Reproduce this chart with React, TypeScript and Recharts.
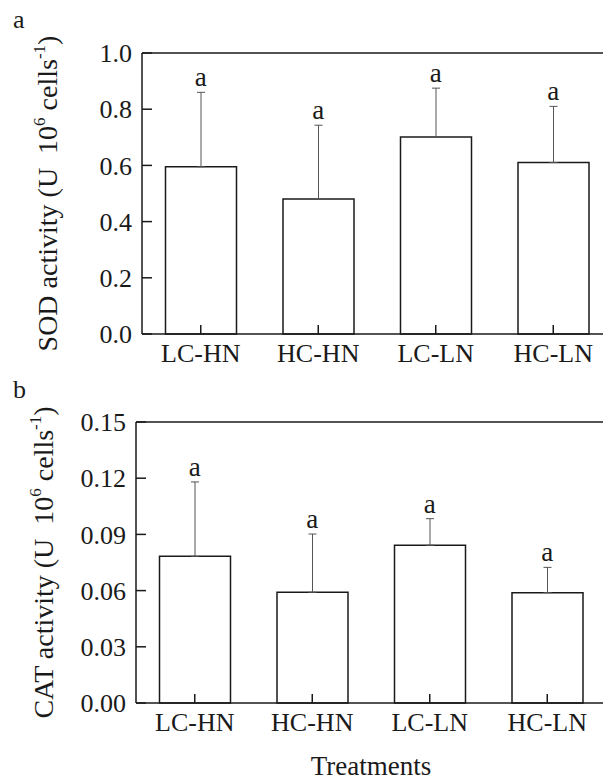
import React from 'react';
import { ComposedChart, Bar, Line, XAxis, YAxis, ErrorBar, LabelList, ReferenceLine } from 'recharts';

const treatments = ['LC-HN', 'HC-HN', 'LC-LN', 'HC-LN'];

const sodMean = [0.595, 0.48, 0.701, 0.61];
const sodSd = [0.265, 0.263, 0.174, 0.2];
const sodLetters = ['a', 'a', 'a', 'a'];
const sodTicks = [0, 0.2, 0.4, 0.6, 0.8, 1.0];

const catMean = [0.0783, 0.0591, 0.0842, 0.0589];
const catSd = [0.0397, 0.0311, 0.0142, 0.0135];
const catLetters = ['a', 'a', 'a', 'a'];
const catTicks = [0, 0.03, 0.06, 0.09, 0.12, 0.15];

const FONT = '"Liberation Serif", "Times New Roman", serif';
const INK = '#1a1a1a';

const buildRows = (mean: number[], sd: number[], letters: string[]) =>
  treatments.map((name, i) => ({
    name,
    mean: mean[i],
    err: [0, sd[i]],
    top: mean[i] + sd[i],
    letter: letters[i],
  }));

const yLabel = (name: string, cx: number) => (props: any) => {
  const vb = props.viewBox;
  const cy = vb.y + vb.height / 2;
  return (
    <text
      x={cx}
      y={cy}
      transform={`rotate(-90 ${cx} ${cy})`}
      textAnchor="middle"
      style={{ fontFamily: FONT, fontSize: 28 }}
      fill={INK}
    >
      {`${name} activity (U\u00a0\u00a010`}
      <tspan dy={-12} style={{ fontSize: 17 }}>6</tspan>
      <tspan dy={12}>{' cells'}</tspan>
      <tspan dy={-12} style={{ fontSize: 17 }}>-1</tspan>
      <tspan dy={12}>)</tspan>
    </text>
  );
};

type PanelProps = {
  rows: ReturnType<typeof buildRows>;
  ticks: number[];
  digits: number;
  name: string;
  width: number;
  height: number;
  marginTop: number;
  axisWidth: number;
  xAxisHeight: number;
  labelX: number;
  showTitle?: boolean;
};

const tickStyle = { fill: INK, fontSize: 26, fontFamily: FONT };

const Panel: React.FC<PanelProps> = ({
  rows, ticks, digits, name, width, height, marginTop, axisWidth, xAxisHeight, labelX, showTitle,
}) => {
  const yMax = ticks[ticks.length - 1];
  return (
    <ComposedChart
      width={width}
      height={height}
      data={rows}
      margin={{ top: marginTop, right: 8, left: 20, bottom: 0 }}
      barCategoryGap="20%"
      style={{ fontFamily: FONT }}
    >
      <XAxis
        dataKey="name"
        height={xAxisHeight}
        stroke={INK}
        strokeWidth={1.5}
        tickSize={-9}
        tickMargin={19}
        tick={tickStyle}
        label={
          showTitle
            ? { value: 'Treatments', position: 'insideBottom', offset: 8, fill: INK, fontSize: 27, fontFamily: FONT }
            : undefined
        }
      />
      <YAxis
        width={axisWidth}
        domain={[0, yMax]}
        ticks={ticks}
        interval={0}
        stroke={INK}
        strokeWidth={1.5}
        tickSize={-10}
        tickMargin={20}
        tickFormatter={(v: number) => v.toFixed(digits)}
        tick={tickStyle}
        label={{ content: yLabel(name, labelX) }}
      />
      <ReferenceLine y={yMax} stroke={INK} strokeWidth={1.5} />
      <Bar dataKey="mean" fill="#ffffff" stroke={INK} strokeWidth={1.5} isAnimationActive={false}>
        <ErrorBar dataKey="err" direction="y" width={4} stroke="#555555" strokeWidth={1} isAnimationActive={false} />
      </Bar>
      <Line
        dataKey="top"
        stroke="none"
        dot={false}
        activeDot={false}
        legendType="none"
        isAnimationActive={false}
      >
        <LabelList dataKey="letter" position="top" offset={6} fill={INK} fontSize={27} fontFamily={FONT} />
      </Line>
    </ComposedChart>
  );
};

const PanelTag: React.FC<{ text: string; top: number }> = ({ text, top }) => (
  <svg width={40} height={40} style={{ position: 'absolute', left: 0, top }}>
    <text x={13} y={28} style={{ fontFamily: FONT, fontSize: 26 }} fill={INK}>{text}</text>
  </svg>
);

export default function App() {
  return (
    <div
      style={{
        position: 'absolute',
        left: 0,
        top: 0,
        width: 603,
        height: 783,
        overflow: 'hidden',
        background: '#ffffff',
        fontFamily: FONT,
      }}
    >
      <div style={{ position: 'absolute', left: 0, top: 0 }}>
        <Panel
          rows={buildRows(sodMean, sodSd, sodLetters)}
          ticks={sodTicks}
          digits={1}
          name="SOD"
          width={620}
          height={374}
          marginTop={53}
          axisWidth={122}
          xAxisHeight={40}
          labelX={57}
        />
      </div>
      <div style={{ position: 'absolute', left: 0, top: 370 }}>
        <Panel
          rows={buildRows(catMean, catSd, catLetters)}
          ticks={catTicks}
          digits={2}
          name="CAT"
          width={614}
          height={413}
          marginTop={52}
          axisWidth={116}
          xAxisHeight={80}
          labelX={53}
          showTitle
        />
      </div>
      <PanelTag text="a" top={0} />
      <PanelTag text="b" top={370} />
    </div>
  );
}
